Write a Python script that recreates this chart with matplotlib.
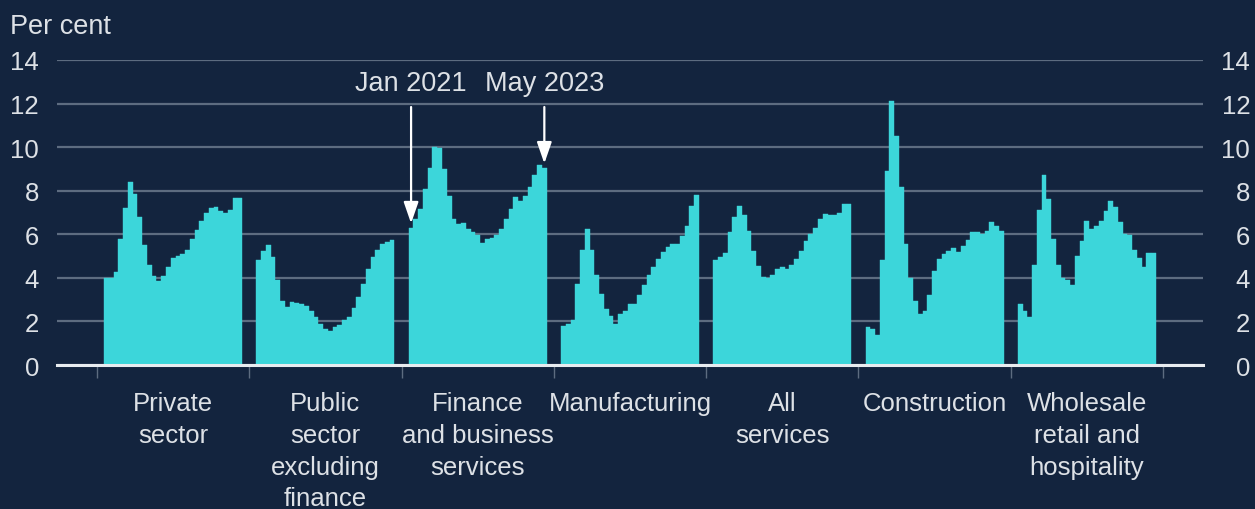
import matplotlib
matplotlib.use("Agg")
import matplotlib.pyplot as plt
import numpy as np

plt.rcParams['font.family'] = ['Liberation Sans', 'DejaVu Sans']

categories = ["Private\nsector", "Public\nsector\nexcluding\nfinance", "Finance\nand business\nservices",
              "Manufacturing", "All\nservices", "Construction", "Wholesale\nretail and\nhospitality"]

private_sector = [4.0, 4.0, 4.25, 5.8, 7.2, 8.4, 7.85, 6.8, 5.5, 4.6, 4.1, 3.85, 4.1, 4.5, 4.9,
                  5.0, 5.1, 5.3, 5.8, 6.2, 6.6, 7.0, 7.2, 7.25, 7.05, 7.0, 7.1, 7.65, 7.65]
public_sector = [4.8, 5.25, 5.5, 4.95, 3.9, 2.95, 2.65, 2.9, 2.85, 2.8, 2.7, 2.5, 2.2, 1.9, 1.65,
                 1.55, 1.75, 1.85, 2.05, 2.2, 2.6, 3.1, 3.7, 4.4, 4.95, 5.3, 5.55, 5.65, 5.75]
finance = [6.3, 6.7, 7.15, 8.1, 9.05, 10.0, 9.95, 9.0, 7.75, 6.7, 6.45, 6.5, 6.25, 6.1, 5.95,
           5.6, 5.8, 5.85, 5.95, 6.25, 6.7, 7.15, 7.7, 7.55, 7.75, 8.15, 8.7, 9.2, 9.05]
manufacturing = [1.8, 1.9, 2.05, 3.7, 5.3, 6.25, 5.3, 4.15, 3.25, 2.55, 2.25, 1.9, 2.35, 2.5, 2.8,
                 2.8, 3.2, 3.65, 4.15, 4.5, 4.85, 5.2, 5.4, 5.55, 5.55, 5.9, 6.4, 7.3, 7.8]
all_services = [4.8, 4.95, 5.15, 6.1, 6.8, 7.3, 6.9, 6.15, 5.25, 4.55, 4.05, 4.0, 4.15, 4.4, 4.5,
                4.4, 4.6, 4.85, 5.25, 5.7, 6.0, 6.3, 6.7, 6.95, 6.9, 6.9, 7.0, 7.4, 7.4]
construction = [1.75, 1.65, 1.4, 4.8, 8.9, 12.1, 10.5, 8.15, 5.55, 4.0, 2.95, 2.35, 2.5, 3.2, 4.3,
                4.85, 5.1, 5.25, 5.35, 5.2, 5.45, 5.75, 6.1, 6.1, 6.0, 6.15, 6.55, 6.4, 6.15]
wholesale = [2.8, 2.5, 2.2, 4.6, 7.1, 8.7, 7.6, 5.8, 4.6, 4.0, 3.9, 3.65, 5.0, 5.7, 6.6,
             6.25, 6.4, 6.6, 7.05, 7.55, 7.25, 6.55, 6.0, 5.95, 5.3, 4.9, 4.5, 5.15, 5.15]

series = [private_sector, public_sector, finance, manufacturing, all_services, construction, wholesale]
yticks = [0, 2, 4, 6, 8, 10, 12, 14]
annotations = [("Jan 2021", 2, 0), ("May 2023", 2, 28)]

BG = '#13243e'
BAR = '#3cd6da'
GRID = '#5d6c80'
TXT = '#dde1e6'

slot = 32
fig = plt.figure(figsize=(12.55, 5.10), dpi=100, facecolor=BG)
ax = fig.add_axes([57/1255, (510-366)/510, (1203-57)/1255, (366-61)/510])
ax.set_facecolor(BG)

for g, vals in enumerate(series):
    xs = g*slot + 2 + np.arange(len(vals))
    ax.bar(xs, vals, width=1.0, color=BAR, edgecolor=BAR, linewidth=0.3, zorder=3)

ax.set_xlim(-8.4, 7*slot + 8.4)
ax.set_ylim(0, 14)
ax.set_yticks(yticks)
ax.set_yticklabels([str(t) for t in yticks])
ax.grid(axis='y', color=GRID, lw=1.6, zorder=1)
ax.set_axisbelow(True)
for s in ['top', 'left', 'right']:
    ax.spines[s].set_visible(False)
ax.spines['bottom'].set_color('#e8ecf0')
ax.spines['bottom'].set_linewidth(2.2)
ax.spines['bottom'].set_zorder(4)

ax.tick_params(axis='y', length=0, pad=13, labelsize=18.5, labelcolor=TXT)
ax.set_xticks([g*slot for g in range(8)])
ax.set_xticklabels([])
ax.tick_params(axis='x', which='major', length=9, width=1.0, color=GRID, direction='out')
ax.set_xticks([g*slot + 16 for g in range(7)], minor=True)
ax.set_xticklabels(categories, minor=True, linespacing=1.4)
ax.tick_params(axis='x', which='minor', length=0, pad=19, labelsize=18.5, labelcolor=TXT)

ax2 = ax.twinx()
ax2.set_ylim(0, 14)
ax2.set_yticks(yticks)
ax2.set_yticklabels([str(t) for t in yticks])
for s in ax2.spines.values():
    s.set_visible(False)
ax2.tick_params(axis='y', length=0, pad=34, labelsize=18.5, labelcolor=TXT)
for lab in ax2.get_yticklabels():
    lab.set_horizontalalignment('right')

fig.text(10/1255, 1 - 27/510, "Per cent", color=TXT, fontsize=19.5, ha='left', va='center')

for label, g, i in annotations:
    x = g*slot + 2 + i
    v = series[g][i]
    ax.annotate(label, xy=(x, v + 0.2), xytext=(x, 12.95), textcoords='data',
                ha='center', va='center', color=TXT, fontsize=19.5, zorder=6,
                arrowprops=dict(arrowstyle='-|>,head_length=1.3,head_width=0.45',
                                mutation_scale=10, color='white', lw=1.6,
                                shrinkA=6, shrinkB=0))

fig.savefig('out.png', dpi=100, facecolor=BG)
